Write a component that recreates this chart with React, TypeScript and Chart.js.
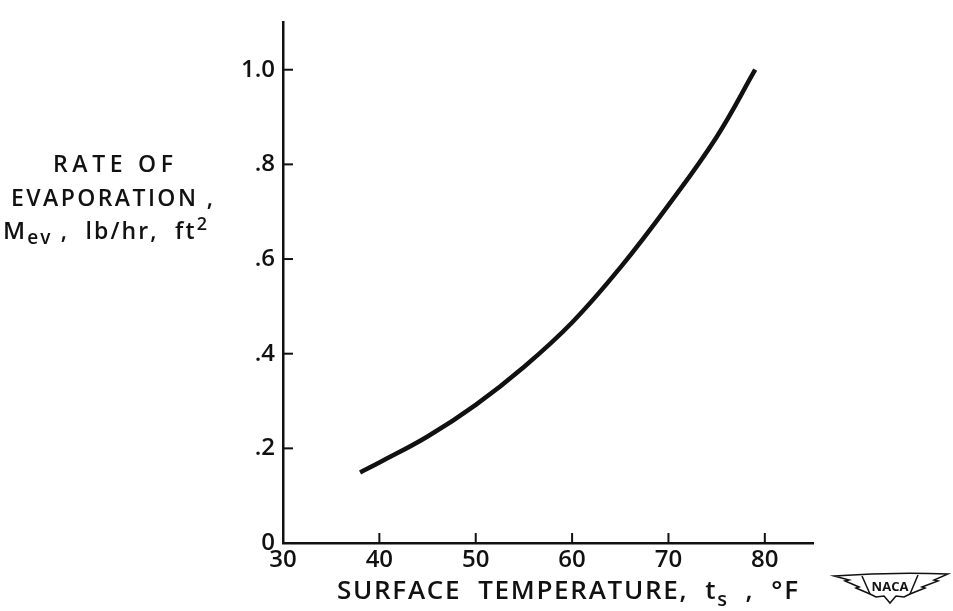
import React, { useEffect, useRef } from "react";
import { Chart, registerables } from "chart.js";

Chart.register(...registerables);

const temps = [38, 40, 45, 50, 55, 60, 65, 70, 75, 79];
const rates = [0.149, 0.17, 0.225, 0.292, 0.372, 0.466, 0.582, 0.714, 0.858, 1.0];
const xTicks = [30, 40, 50, 60, 70, 80];
const yTicks = [0, 0.2, 0.4, 0.6, 0.8, 1.0];
const yTickLabels = ["0", ".2", ".4", ".6", ".8", "1.0"];

const FAMILY = "'Open Sans', 'DejaVu Sans', sans-serif";
const WEIGHT = "600";
const INK = "#111";

type Seg = { t: string; size: number; dy?: number };

function drawSegs(ctx: CanvasRenderingContext2D, segs: Seg[], x0: number, base: number, target: number) {
  let sum = 0;
  let n = 0;
  segs.forEach((s) => {
    ctx.font = `${WEIGHT} ${s.size}px ${FAMILY}`;
    for (const ch of s.t) {
      sum += ctx.measureText(ch).width;
      n++;
    }
  });
  const ls = (target - sum) / Math.max(1, n - 1);
  let x = x0;
  segs.forEach((s) => {
    ctx.font = `${WEIGHT} ${s.size}px ${FAMILY}`;
    for (const ch of s.t) {
      ctx.fillText(ch, x, base + (s.dy || 0));
      x += ctx.measureText(ch).width + ls;
    }
  });
}

const decorPlugin = {
  id: "decor",
  beforeDraw(chart: any) {
    const ctx = chart.ctx;
    ctx.save();
    ctx.fillStyle = "#fff";
    ctx.fillRect(0, 0, chart.width, chart.height);
    ctx.restore();
  },
  afterDraw(chart: any) {
    const ctx: CanvasRenderingContext2D = chart.ctx;
    const xs = chart.scales.x;
    const ys = chart.scales.y;
    const area = chart.chartArea;
    ctx.save();
    ctx.strokeStyle = INK;
    ctx.lineWidth = 2;
    // inward ticks
    xTicks.forEach((v) => {
      if (v === xs.min) return;
      const px = xs.getPixelForValue(v);
      ctx.beginPath();
      ctx.moveTo(px, area.bottom);
      ctx.lineTo(px, area.bottom - 10);
      ctx.stroke();
    });
    yTicks.forEach((v) => {
      if (v === ys.min) return;
      const py = ys.getPixelForValue(v);
      ctx.beginPath();
      ctx.moveTo(area.left, py);
      ctx.lineTo(area.left + 10, py);
      ctx.stroke();
    });

    ctx.fillStyle = INK;
    ctx.textAlign = "left";
    ctx.textBaseline = "alphabetic";
    // y-axis title
    drawSegs(ctx, [{ t: "RATE OF", size: 23 }], 53, 172, 120);
    drawSegs(ctx, [{ t: "EVAPORATION ,", size: 23 }], 11, 206, 202);
    drawSegs(
      ctx,
      [
        { t: "M", size: 24 },
        { t: "ev", size: 19, dy: 5 },
        { t: " ,  lb/hr,  ft", size: 23 },
        { t: "2", size: 18, dy: -9 },
      ],
      3,
      239,
      204
    );
    // x-axis title
    drawSegs(
      ctx,
      [
        { t: "SURFACE  TEMPERATURE,  t", size: 26 },
        { t: "s", size: 20, dy: 7 },
        { t: "  ,  °F", size: 26 },
      ],
      337,
      599,
      461
    );

    // NACA emblem
    ctx.lineWidth = 1.5;
    ctx.beginPath();
    ctx.moveTo(834, 576);
    ctx.quadraticCurveTo(890, 572, 948, 574);
    ctx.lineTo(934, 580);
    ctx.lineTo(938, 581);
    ctx.lineTo(922, 587);
    ctx.lineTo(925, 588);
    ctx.lineTo(910, 594);
    ctx.lineTo(904, 597);
    ctx.lineTo(896, 596);
    ctx.lineTo(890, 603);
    ctx.lineTo(884, 596);
    ctx.lineTo(876, 597);
    ctx.lineTo(870, 594);
    ctx.lineTo(856, 588);
    ctx.lineTo(859, 587);
    ctx.lineTo(845, 581);
    ctx.lineTo(849, 580);
    ctx.closePath();
    ctx.stroke();
    ctx.beginPath();
    ctx.moveTo(862, 576);
    ctx.lineTo(870, 594);
    ctx.moveTo(918, 575);
    ctx.lineTo(910, 594);
    ctx.stroke();
    ctx.font = `bold 13px ${FAMILY}`;
    ctx.textAlign = "center";
    ctx.fillText("NACA", 890, 591);
    ctx.restore();
  },
};

export default function App() {
  const ref = useRef<HTMLCanvasElement | null>(null);
  useEffect(() => {
    if (!ref.current) return;
    const chart = new Chart(ref.current, {
      type: "line",
      data: {
        datasets: [
          {
            data: temps.map((t, i) => ({ x: t, y: rates[i] })),
            borderColor: INK,
            borderWidth: 4.5,
            pointRadius: 0,
            tension: 0.4,
            fill: false,
          },
        ],
      },
      options: {
        responsive: false,
        animation: false,
        events: [],
        layout: { padding: { left: 0, right: 140, top: 10, bottom: 0 } },
        plugins: { legend: { display: false }, tooltip: { enabled: false } },
        scales: {
          x: {
            type: "linear",
            min: 30,
            max: 85,
            afterBuildTicks: (s: any) => {
              s.ticks = xTicks.map((value) => ({ value }));
            },
            afterFit: (s: any) => {
              s.height = 68;
            },
            ticks: {
              autoSkip: false,
              maxRotation: 0,
              padding: 3,
              color: INK,
              font: { family: FAMILY, size: 24, weight: WEIGHT },
              callback: (v: any) => String(v),
            },
            grid: { display: false, drawTicks: false },
            border: { display: true, color: INK, width: 2.5 },
          },
          y: {
            type: "linear",
            min: 0,
            max: 1.1,
            afterBuildTicks: (s: any) => {
              s.ticks = yTicks.map((value) => ({ value }));
            },
            afterFit: (s: any) => {
              s.width = 283;
            },
            ticks: {
              autoSkip: false,
              padding: 8,
              color: INK,
              font: { family: FAMILY, size: 24, weight: WEIGHT },
              callback: (v: any) => {
                const i = yTicks.findIndex((t) => Math.abs(t - v) < 1e-6);
                return i >= 0 ? yTickLabels[i] : "";
              },
            },
            grid: { display: false, drawTicks: false },
            border: { display: true, color: INK, width: 2.5 },
          },
        },
      },
      plugins: [decorPlugin],
    } as any);
    return () => chart.destroy();
  }, []);
  return (
    <div style={{ position: "absolute", left: 0, top: 0, width: 953, height: 611, background: "#fff" }}>
      <canvas ref={ref} width={953} height={611} style={{ display: "block" }} />
    </div>
  );
}
